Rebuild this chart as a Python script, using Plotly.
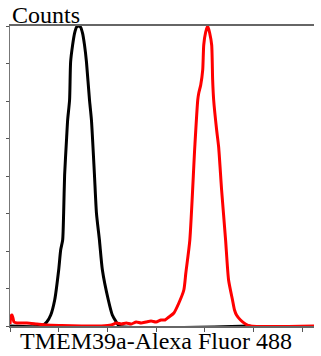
import plotly.graph_objects as go

# Black histogram (control)
black_x = [0.0, 0.653, 0.755, 0.837, 0.918, 1.0, 1.041, 1.082, 1.102, 1.122, 1.163, 1.184, 1.224,
           1.245, 1.286, 1.327, 1.367, 1.408, 1.449, 1.49, 1.531, 1.571, 1.633, 1.673, 1.735,
           1.776, 1.837, 1.898, 2.02, 2.102, 2.184, 2.245, 4.94]
black_y = [0.0, 0.0, 0.107, 0.293, 0.693, 1.493, 2.027, 2.293, 3.013, 4.027, 5.013, 5.493, 6.027,
           7.04, 7.49, 7.81, 7.97, 8.0, 7.97, 7.81, 7.49, 7.04, 6.027, 5.493, 4.027,
           3.013, 2.293, 1.493, 0.693, 0.293, 0.107, 0.0, 0.0]

# Red histogram (TMEM39a)
red_x = [0.0, 0.02, 0.041, 0.061, 0.082, 0.143, 0.347, 0.551, 0.755, 1.061, 1.469, 1.878, 2.082,
         2.184, 2.286, 2.388, 2.49, 2.592, 2.694, 2.796, 2.898, 3.0, 3.102, 3.184, 3.265, 3.367,
         3.469, 3.571, 3.612, 3.694, 3.796, 3.857, 3.878, 3.918, 3.959, 3.98, 4.02, 4.061, 4.102,
         4.143, 4.163, 4.184, 4.245, 4.286, 4.347, 4.429, 4.49, 4.571, 4.612, 4.653, 4.735,
         4.837, 4.939, 6.265]
red_y = [0.053, 0.267, 0.293, 0.213, 0.107, 0.08, 0.08, 0.053, 0.027, 0.013, 0.0, 0.0, 0.027,
         0.08, 0.053, 0.08, 0.053, 0.107, 0.08, 0.107, 0.133, 0.107, 0.16, 0.16, 0.24, 0.347,
         0.613, 0.96, 1.413, 2.293, 4.773, 6.027, 6.213, 6.427, 6.827, 7.493, 7.84, 8.0, 7.813,
         7.493, 6.56, 6.027, 5.227, 4.773, 3.627, 2.293, 1.227, 0.693, 0.427, 0.293, 0.16,
         0.053, 0.0, 0.0]

x_ticks = [0, 1, 2, 3, 4, 5, 6]
y_ticks = [0, 1, 2, 3, 4, 5, 6, 7, 8]
y_title = "Counts"
x_title = "TMEM39a-Alexa Fluor 488"

fig = go.Figure()
fig.add_trace(go.Scatter(x=black_x, y=black_y, mode="lines",
                         line=dict(color="black", width=3, shape="spline", smoothing=0.6),
                         hoverinfo="skip", cliponaxis=False))
fig.add_trace(go.Scatter(x=red_x, y=red_y, mode="lines",
                         line=dict(color="#ff0000", width=3, shape="spline", smoothing=0.6),
                         hoverinfo="skip", cliponaxis=False))

fig.update_layout(
    width=321, height=356,
    margin=dict(l=8, r=7, t=26, b=30),
    paper_bgcolor="white", plot_bgcolor="white",
    showlegend=False,
    xaxis=dict(range=[0, 6.245], tickvals=x_ticks, showticklabels=False,
               ticks="outside", ticklen=4, tickwidth=1, tickcolor="#555",
               showline=True, linecolor="#666", linewidth=2, mirror=True,
               showgrid=False, zeroline=False),
    yaxis=dict(range=[0, 8], tickvals=y_ticks, showticklabels=False,
               ticks="outside", ticklen=3, tickwidth=1, tickcolor="#555",
               showline=True, linecolor="#777", linewidth=1,
               showgrid=False, zeroline=False),
    annotations=[
        dict(text=y_title, xref="paper", yref="paper", x=0.0, y=1.038,
             xanchor="left", yanchor="middle", showarrow=False,
             font=dict(family="Liberation Serif", size=24, color="black")),
        dict(text=x_title, xref="paper", yref="paper", x=0.48, y=-0.05,
             xanchor="center", yanchor="middle", showarrow=False,
             font=dict(family="Liberation Serif", size=24, color="black")),
    ],
)

fig.write_html("out.html")
